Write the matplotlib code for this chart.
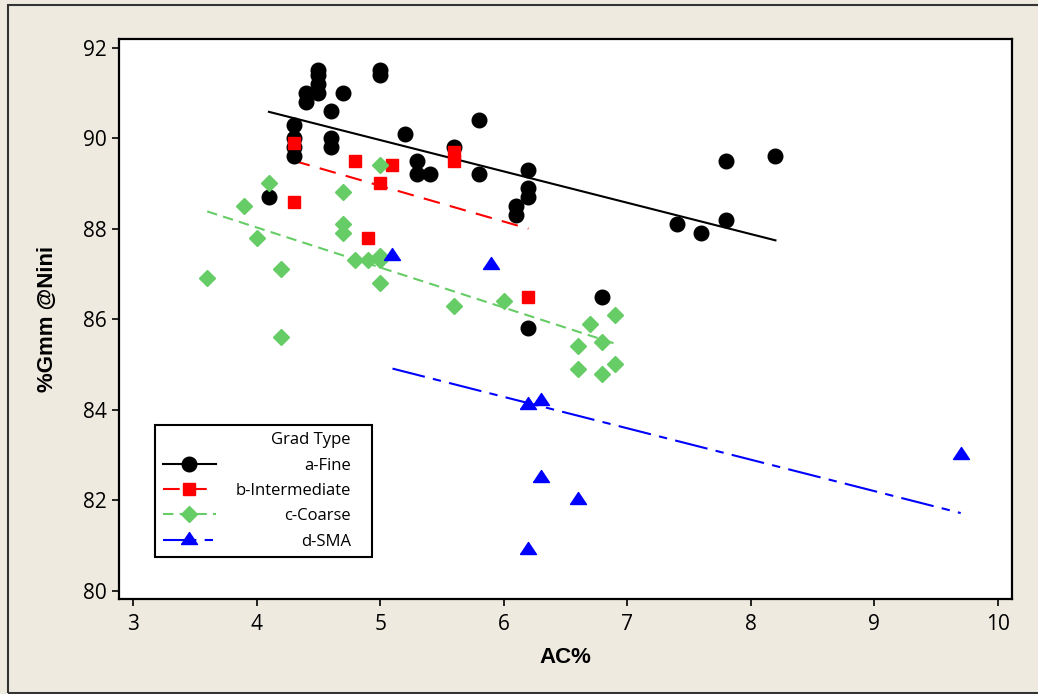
import numpy as np
import matplotlib.pyplot as plt
from matplotlib.lines import Line2D
from matplotlib.patches import Rectangle
from matplotlib import font_manager

# %Gmm at Nini versus asphalt content, by gradation type
fine_ac = [4.1, 4.3, 4.3, 4.3, 4.3, 4.4, 4.4, 4.5, 4.5, 4.5, 4.5, 4.6, 4.6, 4.6,
           4.7, 5.0, 5.0, 5.2, 5.3, 5.3, 5.4, 5.6, 5.8, 5.8, 6.2, 6.2, 6.2, 6.1,
           6.1, 6.8, 6.2, 7.4, 7.6, 7.8, 7.8, 8.2]
fine_gmm = [88.7, 90.3, 90.0, 89.8, 89.6, 91.0, 90.8, 91.5, 91.4, 91.2, 91.0, 90.6,
            90.0, 89.8, 91.0, 91.5, 91.4, 90.1, 89.5, 89.2, 89.2, 89.8, 90.4, 89.2,
            89.3, 88.9, 88.7, 88.5, 88.3, 86.5, 85.8, 88.1, 87.9, 89.5, 88.2, 89.6]

inter_ac = [4.3, 4.3, 4.8, 5.1, 5.0, 4.9, 5.6, 5.6, 6.2]
inter_gmm = [89.9, 88.6, 89.5, 89.4, 89.0, 87.8, 89.7, 89.5, 86.5]

coarse_ac = [3.6, 3.9, 4.0, 4.1, 4.2, 4.2, 4.7, 4.7, 4.7, 4.8, 4.9, 5.0, 5.0, 5.0,
             5.0, 5.6, 6.0, 6.6, 6.6, 6.7, 6.8, 6.8, 6.9, 6.9]
coarse_gmm = [86.9, 88.5, 87.8, 89.0, 87.1, 85.6, 88.8, 88.1, 87.9, 87.3, 87.3, 89.4,
              87.4, 87.3, 86.8, 86.3, 86.4, 85.4, 84.9, 85.9, 85.5, 84.8, 86.1, 85.0]

sma_ac = [5.1, 5.9, 6.2, 6.3, 6.3, 6.6, 6.2, 9.7]
sma_gmm = [87.4, 87.2, 84.1, 84.2, 82.5, 82.0, 80.9, 83.0]

labels = ['a-Fine', 'b-Intermediate', 'c-Coarse', 'd-SMA']
legend_title = 'Grad Type'

installed = {f.name for f in font_manager.fontManager.ttflist}
narrow = 'Liberation Sans Narrow' if 'Liberation Sans Narrow' in installed else 'Liberation Sans'
plt.rcParams['font.family'] = ['Open Sans', 'DejaVu Sans']

bg = '#EEEAE0'
W, H = 1038, 694
fig = plt.figure(figsize=(W / 100, H / 100), dpi=100, facecolor=bg)
ax = fig.add_axes([119 / W, 1 - 599 / H, 893 / W, 560 / H])
ax.set_facecolor('white')

# flatter triangle, like the Minitab symbol
tri = [(-1, -0.5), (1, -0.5), (0, 1), (-1, -0.5)]

styles = [
    dict(color='black', marker='o', ms=10.5, ls='-'),
    dict(color='#FF0000', marker='s', ms=9, ls=(0, (8, 5))),
    dict(color='#66CC66', marker='D', ms=8.5, ls=(0, (5, 3))),
    dict(color='#0000FF', marker=tri, ms=11.5, ls=(0, (16, 4, 4, 4))),
]
series = [(fine_ac, fine_gmm), (inter_ac, inter_gmm),
          (coarse_ac, coarse_gmm), (sma_ac, sma_gmm)]

handles = []
for (xs, ys), st in zip(series, styles):
    xs = np.array(xs)
    ys = np.array(ys)
    ax.plot(xs, ys, linestyle='none', marker=st['marker'], ms=st['ms'],
            color=st['color'], mec=st['color'], zorder=3)
    slope, icpt = np.polyfit(xs, ys, 1)
    xl = np.array([xs.min(), xs.max()])
    ax.plot(xl, slope * xl + icpt, color=st['color'], ls=st['ls'], lw=1.5, zorder=2)
    handles.append(Line2D([], [], color=st['color'], ls=st['ls'], lw=1.5,
                          marker=st['marker'], ms=st['ms'], mec=st['color']))

ax.set_xlim(2.886, 10.115)
ax.set_ylim(79.82, 92.19)
ax.set_xticks(range(3, 11))
ax.set_yticks(range(80, 93, 2))
ax.tick_params(direction='out', length=5, width=1.2, labelsize=15, color='black')
ax.tick_params(axis='x', pad=6)
ax.tick_params(axis='y', pad=4)
for sp in ax.spines.values():
    sp.set_linewidth(1.6)
    sp.set_color('black')

ax.set_xlabel('AC%', fontsize=16, fontweight='bold', family=narrow)
ax.set_ylabel('%Gmm @Nini', fontsize=16, fontweight='bold', family=narrow)
ax.xaxis.set_label_coords(0.5, -0.085)
ax.yaxis.set_label_coords(-0.068, 0.5)

# legend box: x 155..372 px, bottom at 557 px
lx0 = (155 - 119) / 893
lw_ax = (372 - 155) / 893
leg = ax.legend(handles, labels, title=legend_title, loc='lower left',
                bbox_to_anchor=(lx0, 0.075, lw_ax, 0.2), mode='expand',
                borderaxespad=0, fontsize=12, title_fontsize=12,
                handlelength=3.2, handletextpad=1.1, labelspacing=0.56,
                borderpad=0.45, fancybox=False, framealpha=1, edgecolor='black')
leg.get_frame().set_linewidth(1.5)

# right-align title and labels inside the legend box, as in the original
fig.canvas.draw()
rend = fig.canvas.get_renderer()
frame_bb = leg.get_frame().get_window_extent(rend)
right = frame_bb.x1 - 21
inv = fig.transFigure.inverted()
for t in [leg.get_title()] + leg.get_texts():
    b = t.get_window_extent(rend)
    t.set_alpha(0)
    fx, fy = inv.transform((right, (b.y0 + b.y1) / 2))
    fig.text(fx, fy, t.get_text(), ha='right', va='center', fontsize=12, zorder=10)

fig.patches.append(Rectangle((8 / W, 1 / H), 1.2, 688 / H, transform=fig.transFigure,
                             fill=False, edgecolor='#333333', lw=1.5, clip_on=False))

fig.savefig('out.png', dpi=100, facecolor=bg)
